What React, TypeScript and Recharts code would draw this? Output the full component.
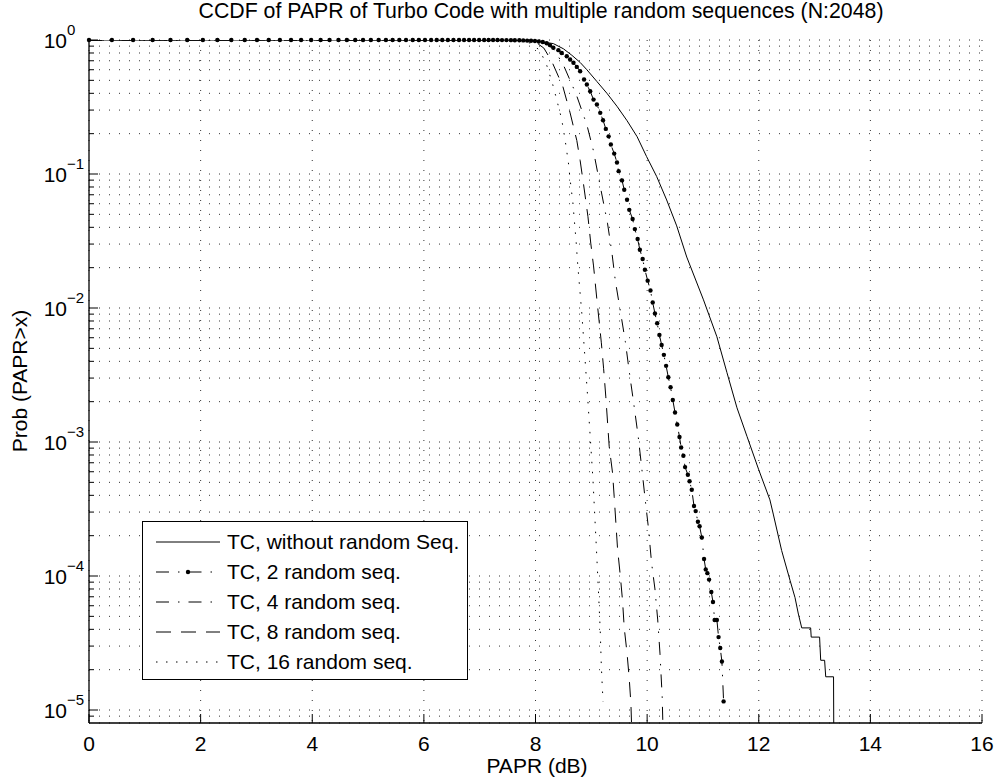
import React from 'react';
import { LineChart, Line, XAxis, YAxis, CartesianGrid } from 'recharts';

const FONT = '"Liberation Sans", Arial, Helvetica, sans-serif';
const FS = 21;

const xTicks = [0, 2, 4, 6, 8, 10, 12, 14, 16];
const yTicks = [
  9e-6, 1e-5, 2e-5, 3e-5, 4e-5, 5e-5, 6e-5, 7e-5, 8e-5, 9e-5,
  1e-4, 2e-4, 3e-4, 4e-4, 5e-4, 6e-4, 7e-4, 8e-4, 9e-4,
  1e-3, 2e-3, 3e-3, 4e-3, 5e-3, 6e-3, 7e-3, 8e-3, 9e-3,
  1e-2, 2e-2, 3e-2, 4e-2, 5e-2, 6e-2, 7e-2, 8e-2, 9e-2,
  1e-1, 2e-1, 3e-1, 4e-1, 5e-1, 6e-1, 7e-1, 8e-1, 9e-1, 1,
];

// [PAPR dB, Prob(PAPR > x)]
const noRandomSeq = [
  [0, 1], [6, 1], [7, 0.9999], [7.5, 0.998], [7.8, 0.993], [8.0, 0.985], [8.32, 0.94],
  [8.5, 0.86], [8.65, 0.77], [8.8, 0.68], [8.92, 0.6], [9.1, 0.49], [9.28, 0.4],
  [9.46, 0.32], [9.64, 0.25], [9.82, 0.19], [9.99, 0.135], [10.17, 0.096], [10.35, 0.064],
  [10.53, 0.041], [10.71, 0.024], [11.01, 0.0115], [11.25, 0.0061], [11.43, 0.0033],
  [11.61, 0.0018], [11.79, 0.0011], [12.0, 6.2e-4], [12.2, 3.7e-4], [12.26, 2.9e-4],
  [12.41, 1.55e-4], [12.56, 9.3e-5], [12.65, 6.9e-5], [12.71, 5.2e-5], [12.77, 4.1e-5],
  [12.93, 4.1e-5], [12.94, 3.5e-5], [13.09, 3.5e-5], [13.11, 2.35e-5], [13.18, 2.35e-5],
  [13.2, 1.77e-5], [13.34, 1.77e-5], [13.345, 5.9e-6],
];

const twoRandomSeq = [
  [0, 1], [0.41, 1], [0.79, 1], [1.14, 1], [1.46, 1], [1.76, 1], [2.04, 1], [2.3, 1],
  [2.55, 1], [2.79, 1], [3.01, 1], [3.22, 1], [3.42, 1], [3.62, 1], [3.8, 1], [3.98, 1],
  [4.15, 1], [4.31, 1], [4.47, 1], [4.62, 1], [4.77, 1], [4.91, 1], [5.05, 1], [5.19, 1],
  [5.32, 1], [5.44, 1], [5.56, 1], [5.68, 1], [5.8, 1], [5.91, 1], [6.02, 1], [6.13, 1],
  [6.23, 1], [6.33, 1], [6.43, 1], [6.53, 1], [6.63, 1], [6.72, 1], [6.81, 1], [6.9, 1],
  [6.99, 1], [7.08, 1], [7.16, 0.999], [7.24, 0.999], [7.32, 0.999], [7.4, 0.998],
  [7.48, 0.998], [7.56, 0.997], [7.63, 0.996], [7.71, 0.995], [7.78, 0.993], [7.85, 0.99],
  [7.92, 0.987], [7.99, 0.983], [8.06, 0.975], [8.13, 0.965], [8.2, 0.945], [8.26, 0.915],
  [8.32, 0.875], [8.41, 0.84], [8.47, 0.8], [8.56, 0.757], [8.62, 0.715], [8.68, 0.676],
  [8.74, 0.63], [8.8, 0.585], [8.87, 0.507], [8.92, 0.465], [8.98, 0.414], [9.04, 0.359],
  [9.1, 0.33], [9.16, 0.286], [9.21, 0.252], [9.26, 0.217], [9.31, 0.191], [9.35, 0.166],
  [9.41, 0.142], [9.46, 0.122], [9.49, 0.105], [9.55, 0.0896], [9.59, 0.0763],
  [9.64, 0.0643], [9.68, 0.054], [9.74, 0.0461], [9.78, 0.0388], [9.83, 0.0327],
  [9.87, 0.0272], [9.92, 0.0232], [9.96, 0.0193], [10.01, 0.016], [10.06, 0.0135],
  [10.1, 0.011], [10.14, 9.1e-3], [10.18, 7.7e-3], [10.22, 6.3e-3], [10.26, 5.3e-3],
  [10.3, 4.47e-3], [10.34, 3.7e-3], [10.38, 3.04e-3], [10.42, 2.56e-3], [10.46, 2.06e-3],
  [10.5, 1.66e-3], [10.54, 1.35e-3], [10.58, 1.09e-3], [10.61, 9.1e-4], [10.65, 7.9e-4],
  [10.68, 6.5e-4], [10.73, 5.7e-4], [10.76, 5.1e-4], [10.8, 4.4e-4], [10.84, 3.33e-4],
  [10.87, 3.05e-4], [10.91, 2.54e-4], [10.94, 2.35e-4], [10.98, 1.94e-4], [11.02, 1.34e-4],
  [11.05, 1.12e-4], [11.08, 1.05e-4], [11.11, 9.4e-5], [11.15, 7.6e-5], [11.18, 6.4e-5],
  [11.21, 4.7e-5], [11.25, 4.7e-5], [11.28, 3.5e-5], [11.31, 2.9e-5], [11.34, 2.3e-5],
  [11.37, 1.16e-5],
];

const fourRandomSeq = [
  [0, 1], [7, 1], [7.6, 0.999], [8.0, 0.99], [8.2, 0.94], [8.35, 0.83], [8.51, 0.637],
  [8.73, 0.392], [8.92, 0.233], [9.04, 0.148], [9.16, 0.081], [9.29, 0.043], [9.37, 0.0257],
  [9.43, 0.016], [9.52, 9.5e-3], [9.61, 5.6e-3], [9.68, 3.35e-3], [9.76, 1.94e-3],
  [9.84, 1.1e-3], [9.9, 6.6e-4], [9.96, 3.9e-4], [10.02, 2.35e-4], [10.08, 1.25e-4],
  [10.14, 8.0e-5], [10.19, 4.7e-5], [10.23, 2.66e-5], [10.27, 1.25e-5], [10.29, 5.9e-6],
];

const eightRandomSeq = [
  [0, 1], [7, 1], [7.5, 0.999], [7.8, 0.995], [8.0, 0.965], [8.15, 0.87], [8.29, 0.695],
  [8.49, 0.45], [8.62, 0.286], [8.74, 0.178], [8.8, 0.126], [8.87, 0.0786], [8.94, 0.048],
  [8.99, 0.0305], [9.04, 0.0206], [9.11, 0.0105], [9.18, 5.5e-3], [9.22, 3.55e-3],
  [9.26, 2.17e-3], [9.32, 9.3e-4], [9.38, 5.9e-4], [9.41, 3.9e-4], [9.47, 1.6e-4],
  [9.52, 1.0e-4], [9.56, 6.5e-5], [9.59, 4.1e-5], [9.64, 2.66e-5], [9.68, 1.71e-5],
  [9.71, 1.1e-5], [9.73, 5.9e-6],
];

const sixteenRandomSeq = [
  [0, 1], [7, 1], [7.5, 0.999], [7.7, 0.99], [7.9, 0.95], [8.0, 0.9], [8.1, 0.8],
  [8.2, 0.65], [8.3, 0.48], [8.38, 0.359], [8.47, 0.255], [8.53, 0.18], [8.59, 0.121],
  [8.62, 0.091], [8.67, 0.061], [8.73, 0.0305], [8.75, 0.0229], [8.77, 0.018],
  [8.83, 9.1e-3], [8.88, 4.6e-3], [8.93, 2.3e-3], [8.98, 1.1e-3], [9.03, 5.2e-4],
  [9.09, 1.65e-4], [9.13, 7.4e-5], [9.16, 3.9e-5], [9.18, 2.1e-5], [9.21, 1.15e-5],
];

const toRows = (pts: number[][]) => pts.map(([x, p]) => ({ x, p }));

const series = [
  { name: 'TC, without random Seq.', data: toRows(noRandomSeq), dash: undefined, dots: false },
  { name: 'TC, 2 random seq.', data: toRows(twoRandomSeq), dash: '13 9 1.5 9', dots: true },
  { name: 'TC, 4 random seq.', data: toRows(fourRandomSeq), dash: '13 9 1.5 9', dots: false },
  { name: 'TC, 8 random seq.', data: toRows(eightRandomSeq), dash: '15 10', dots: false },
  { name: 'TC, 16 random seq.', data: toRows(sixteenRandomSeq), dash: '1.5 8.5', dots: false },
];

const isMajor = (v: number) => Math.abs(Math.log10(v) - Math.round(Math.log10(v))) < 1e-9;

function LeftTick({ x, y, payload }: any) {
  const v = payload.value;
  const major = isMajor(v);
  const e = Math.round(Math.log10(v));
  return (
    <g>
      <line x1={x} x2={x + (major ? 9 : 5)} y1={y} y2={y} stroke="#000" />
      {major && (
        <text fontFamily={FONT} fill="#000">
          <tspan x={x - 22} y={y + 8} fontSize={FS} textAnchor="end">10</tspan>
          <tspan x={x - 22} y={y - 5} fontSize={15}>{e === 0 ? '0' : `\u2212${-e}`}</tspan>
        </text>
      )}
    </g>
  );
}

function RightTick({ x, y, payload }: any) {
  const major = isMajor(payload.value);
  return <line x1={x} x2={x - (major ? 9 : 5)} y1={y} y2={y} stroke="#000" />;
}

function BottomTick({ x, y, payload }: any) {
  return (
    <g>
      <line x1={x} x2={x} y1={y} y2={y - 9} stroke="#000" />
      <text x={x} y={y + 28} textAnchor="middle" fontSize={FS} fontFamily={FONT} fill="#000">
        {payload.value}
      </text>
    </g>
  );
}

function TopTick({ x, y }: any) {
  return <line x1={x} x2={x} y1={y} y2={y + 9} stroke="#000" />;
}

function LegendSample({ dash, dots }: { dash?: string; dots: boolean }) {
  return (
    <svg width={66} height={12} style={{ display: 'block' }}>
      <line x1={1} x2={65} y1={6} y2={6} stroke="#000" strokeWidth={1} strokeDasharray={dash} />
      {dots && <circle cx={33} cy={6} r={2.2} fill="#000" />}
    </svg>
  );
}

export default function App() {
  return (
    <div style={{ position: 'absolute', left: 0, top: 0, width: 1000, height: 783, background: '#fff', fontFamily: FONT }}>
      <div style={{ position: 'absolute', left: 0, width: 1082, top: 0, textAlign: 'center', fontSize: 21.3, lineHeight: '23px', color: '#000' }}>
        CCDF of PAPR of Turbo Code with multiple random sequences (N:2048)
      </div>
      <LineChart width={1000} height={783} margin={{ top: 40, right: 18, bottom: 0, left: 0 }}>
        <CartesianGrid stroke="#333" strokeDasharray="1 9" />
        <XAxis
          dataKey="x"
          type="number"
          domain={[0, 16]}
          ticks={xTicks}
          interval={0}
          height={60}
          tickSize={0}
          tickMargin={0}
          tickLine={false}
          axisLine={{ stroke: '#000', strokeWidth: 1.3 }}
          tick={<BottomTick />}
          allowDataOverflow
        />
        <XAxis
          xAxisId="top"
          orientation="top"
          type="number"
          domain={[0, 16]}
          ticks={xTicks}
          interval={0}
          height={0}
          tickSize={0}
          tickMargin={0}
          tickLine={false}
          axisLine={{ stroke: '#000', strokeWidth: 1.3 }}
          tick={<TopTick />}
        />
        <YAxis
          type="number"
          scale="log"
          domain={[8e-6, 1]}
          ticks={yTicks}
          interval={0}
          width={89}
          tickSize={0}
          tickMargin={0}
          tickLine={false}
          axisLine={{ stroke: '#000', strokeWidth: 1.3 }}
          tick={<LeftTick />}
          allowDataOverflow
        />
        <YAxis
          yAxisId="right"
          orientation="right"
          type="number"
          scale="log"
          domain={[8e-6, 1]}
          ticks={yTicks}
          interval={0}
          width={0}
          tickSize={0}
          tickMargin={0}
          tickLine={false}
          axisLine={{ stroke: '#000', strokeWidth: 1.3 }}
          tick={<RightTick />}
          allowDataOverflow
        />
        {series.map((s) => (
          <Line
            key={s.name}
            data={s.data}
            dataKey="p"
            name={s.name}
            type="linear"
            stroke="#000"
            strokeWidth={1}
            strokeDasharray={s.dash}
            dot={s.dots ? { r: 2.2, fill: '#000', stroke: 'none', clipDot: false } : false}
            activeDot={false}
            isAnimationActive={false}
          />
        ))}
      </LineChart>
      <div style={{ position: 'absolute', left: 0, top: 754, width: 1074, textAlign: 'center', fontSize: FS, lineHeight: '23px' }}>
        PAPR (dB)
      </div>
      <div style={{ position: 'absolute', left: 19, top: 381, width: 0, height: 0 }}>
        <div style={{ position: 'absolute', transform: 'translate(-50%, -50%) rotate(-90deg)', whiteSpace: 'nowrap', fontSize: FS, lineHeight: '23px' }}>
          Prob (PAPR&gt;x)
        </div>
      </div>
      <div
        style={{
          position: 'absolute', left: 142, top: 521, width: 326, height: 159,
          border: '1.3px solid #000', background: '#fff', boxSizing: 'border-box',
        }}
      >
        {series.map((s, i) => (
          <div key={s.name} style={{ position: 'absolute', left: 12, top: 20 + i * 30 - 12, height: 24, display: 'flex', alignItems: 'center', whiteSpace: 'nowrap' }}>
            <LegendSample dash={s.dash} dots={s.dots} />
            <span style={{ marginLeft: 6, fontSize: FS, lineHeight: '24px' }}>{s.name}</span>
          </div>
        ))}
      </div>
    </div>
  );
}
